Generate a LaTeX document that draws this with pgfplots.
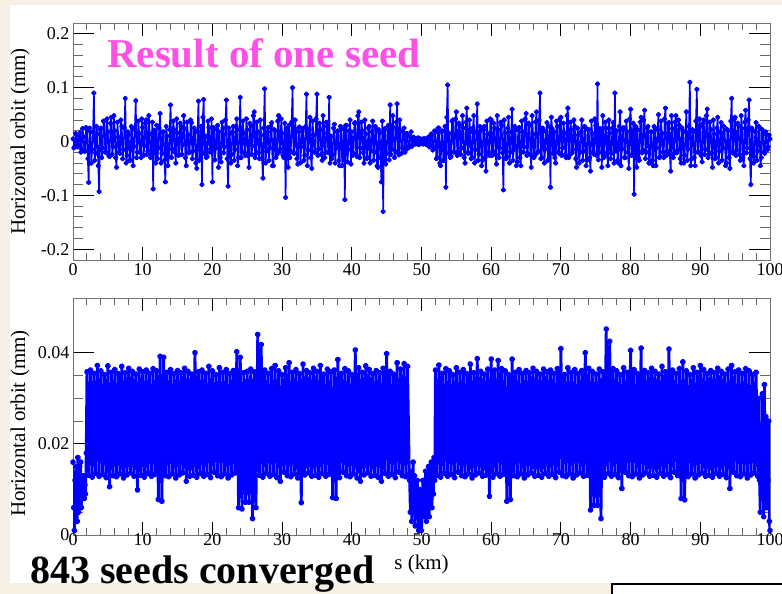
\documentclass[border=0pt]{standalone}
\usepackage{fontspec}
\setmainfont{Liberation Serif}
\usepackage{pgfplots}
\pgfplotsset{compat=1.18}

\definecolor{slidebg}{RGB}{246,240,228}
\definecolor{seedpink}{RGB}{255,80,230}
\definecolor{orbitblue}{RGB}{0,0,255}

\pgfplotsset{
  orbitaxis/.style={
    scale only axis, width=697bp, height=237bp,
    xmin=0, xmax=100, xtick={0,10,...,100}, minor x tick num=4,
    tick align=inside,
    axis line style={black!55, line width=0.9bp},
    major tick length=21bp, minor tick length=10bp,
    xtick style={/pgfplots/major tick length=13bp, /pgfplots/minor tick length=7bp},
    every major tick/.append style={black, line width=0.9bp},
    every minor tick/.append style={black!60, line width=0.9bp},
    ticklabel style={font=\fontsize{18bp}{20bp}\selectfont},
    /pgf/number format/assume math mode=true,
    scaled ticks=false,
    ylabel={Horizontal orbit (mm)},
    every axis y label/.style={at={(axis description cs:-0.076,0.5)}, rotate=90,
      anchor=center, font=\fontsize{21bp}{24bp}\selectfont},
  }
}

\begin{document}
\begin{tikzpicture}
\path[use as bounding box] (0,0) rectangle (782bp,-594bp);
\fill[slidebg] (0,0) rectangle (782bp,-594bp);
\fill[white] (10bp,-5bp) rectangle (782bp,-583bp);

% top panel: one seed
\begin{axis}[orbitaxis, at={(73bp,-260bp)}, anchor=south west,
  ymin=-0.22, ymax=0.22, ytick={-0.2,-0.1,0,0.1,0.2},
  yticklabels={-0.2,-0.1,0,0.1,0.2}, minor y tick num=4]
\addplot[orbitblue, line width=1.6bp, line join=round, mark=*, mark size=1.9bp] coordinates {
(0,0.005)(0.125,-0.012)(0.25,-0.009)(0.375,0.015)(0.5,0.012)(0.625,-0.01)(0.75,-0.006)(0.875,0.014)
(1,0.016)(1.125,-0.02)(1.25,-0.014)(1.375,0.024)(1.5,0.009)(1.625,-0.018)(1.75,-0.018)(1.875,0.026)
(2,0.022)(2.125,-0.032)(2.25,-0.076)(2.375,0.025)(2.5,0.018)(2.625,-0.04)(2.75,-0.015)(2.875,0.018)
(3,0.09)(3.125,-0.035)(3.25,-0.022)(3.375,0.028)(3.5,0.014)(3.625,-0.045)(3.75,-0.093)(3.875,0.022)
(4,0.025)(4.125,-0.03)(4.25,-0.012)(4.375,0.038)(4.5,0.038)(4.625,-0.02)(4.75,-0.02)(4.875,0.042)
(5,0.018)(5.125,-0.026)(5.25,-0.028)(5.375,0.034)(5.5,0.045)(5.625,-0.024)(5.75,-0.01)(5.875,0.048)
(6,0.02)(6.125,-0.03)(6.25,-0.048)(6.375,0.036)(6.5,0.008)(6.625,-0.021)(6.75,-0.022)(6.875,0.04)
(7,0.028)(7.125,-0.032)(7.25,-0.015)(7.375,0.025)(7.5,0.08)(7.625,-0.04)(7.75,-0.026)(7.875,0.018)
(8,0.012)(8.125,-0.035)(8.25,-0.035)(8.375,0.028)(8.5,0.024)(8.625,-0.045)(8.75,-0.009)(8.875,0.022)
(9,0.076)(9.125,-0.03)(9.25,-0.02)(9.375,0.038)(9.5,0.015)(9.625,-0.02)(9.75,-0.03)(9.875,0.042)
(10,0.026)(10.125,-0.026)(10.25,-0.008)(10.375,0.034)(10.5,0.04)(10.625,-0.024)(10.75,-0.018)(10.875,0.048)
(11,0.014)(11.125,-0.03)(11.25,-0.024)(11.375,0.036)(11.5,-0.088)(11.625,0.021)(11.75,0.02)(11.875,-0.04)
(12,0.03)(12.125,-0.032)(12.25,-0.012)(12.375,0.025)(12.5,0.052)(12.625,-0.04)(12.75,-0.022)(12.875,0.018)
(13,0.018)(13.125,-0.035)(13.25,-0.075)(13.375,0.028)(13.5,0.01)(13.625,-0.045)(13.75,-0.028)(13.875,0.022)
(14,0.068)(14.125,-0.03)(14.25,-0.014)(14.375,0.038)(14.5,0.022)(14.625,-0.02)(14.75,-0.04)(14.875,0.042)
(15,0.016)(15.125,-0.026)(15.25,-0.025)(15.375,0.034)(15.5,0.028)(15.625,-0.024)(15.75,-0.006)(15.875,0.048)
(16,0.024)(16.125,-0.03)(16.25,-0.045)(16.375,0.036)(16.5,0.012)(16.625,-0.021)(16.75,-0.02)(16.875,0.04)
(17,0.035)(17.125,-0.032)(17.25,-0.018)(17.375,0.025)(17.5,0.02)(17.625,-0.04)(17.75,-0.05)(17.875,0.018)
(18,0.075)(18.125,-0.035)(18.25,-0.016)(18.375,0.028)(18.5,-0.08)(18.625,0.045)(18.75,0.078)(18.875,-0.022)
(19,0.01)(19.125,-0.03)(19.25,-0.028)(19.375,0.038)(19.5,0.026)(19.625,-0.02)(19.75,-0.014)(19.875,0.042)
(20,-0.075)(20.125,0.026)(20.25,0.022)(20.375,-0.034)(20.5,-0.012)(20.625,0.024)(20.75,0.03)(20.875,-0.048)
(21,0.018)(21.125,-0.03)(21.25,-0.038)(21.375,0.036)(21.5,0.025)(21.625,-0.021)(21.75,-0.01)(21.875,0.04)
(22,0.077)(22.125,-0.032)(22.25,-0.083)(22.375,0.025)(22.5,0.014)(22.625,-0.04)(22.75,-0.024)(22.875,0.018)
(23,0.028)(23.125,-0.035)(23.25,-0.015)(23.375,0.028)(23.5,0.042)(23.625,-0.045)(23.75,-0.03)(23.875,0.022)
(24,0.082)(24.125,-0.03)(24.25,-0.02)(24.375,0.038)(24.5,0.016)(24.625,-0.02)(24.75,-0.026)(24.875,0.042)
(25,0.022)(25.125,-0.026)(25.25,-0.048)(25.375,0.034)(25.5,0.03)(25.625,-0.024)(25.75,-0.008)(25.875,0.048)
(26,0.055)(26.125,-0.03)(26.25,-0.022)(26.375,0.036)(26.5,0.018)(26.625,-0.021)(26.75,-0.032)(26.875,0.04)
(27,0.012)(27.125,-0.032)(27.25,-0.068)(27.375,0.025)(27.5,0.098)(27.625,-0.04)(27.75,-0.018)(27.875,0.018)
(28,0.026)(28.125,-0.035)(28.25,-0.012)(28.375,0.028)(28.5,0.035)(28.625,-0.045)(28.75,-0.045)(28.875,0.022)
(29,0.02)(29.125,-0.03)(29.25,-0.024)(29.375,0.038)(29.5,0.048)(29.625,-0.02)(29.75,-0.014)(29.875,0.042)
(30,0.015)(30.125,-0.026)(30.25,-0.03)(30.375,0.034)(30.5,-0.104)(30.625,0.024)(30.75,0.025)(30.875,-0.048)
(31,0.03)(31.125,-0.03)(31.25,-0.018)(31.375,0.036)(31.5,0.1)(31.625,-0.021)(31.75,-0.022)(31.875,0.04)
(32,0.018)(32.125,-0.032)(32.25,-0.042)(32.375,0.025)(32.5,0.027)(32.625,-0.04)(32.75,-0.01)(32.875,0.018)
(33,0.024)(33.125,-0.035)(33.25,-0.026)(33.375,0.028)(33.5,0.088)(33.625,-0.045)(33.75,-0.016)(33.875,0.022)
(34,0.045)(34.125,-0.03)(34.25,-0.05)(34.375,0.038)(34.5,0.012)(34.625,-0.02)(34.75,-0.02)(34.875,0.042)
(35,0.088)(35.125,-0.026)(35.25,-0.014)(35.375,0.034)(35.5,0.022)(35.625,-0.024)(35.75,-0.035)(35.875,0.048)
(36,0.028)(36.125,-0.03)(36.25,-0.02)(36.375,0.036)(36.5,0.015)(36.625,-0.021)(36.75,0.082)(36.875,-0.04)
(37,0.01)(37.125,-0.032)(37.25,-0.025)(37.375,0.025)(37.5,0.032)(37.625,-0.04)(37.75,-0.012)(37.875,0.018)
(38,0.02)(38.125,-0.035)(38.25,-0.045)(38.375,0.028)(38.5,0.026)(38.625,-0.045)(38.75,-0.018)(38.875,0.022)
(39,-0.108)(39.125,0.03)(39.25,0.03)(39.375,-0.038)(39.5,-0.015)(39.625,0.02)(39.75,0.04)(39.875,-0.042)
(40,0.018)(40.125,-0.026)(40.25,-0.022)(40.375,0.034)(40.5,0.035)(40.625,-0.024)(40.75,-0.028)(40.875,0.048)
(41,0.055)(41.125,-0.03)(41.25,-0.012)(41.375,0.036)(41.5,0.02)(41.625,-0.021)(41.75,-0.04)(41.875,0.04)
(42,0.014)(42.125,-0.032)(42.25,-0.03)(42.375,0.025)(42.5,0.028)(42.625,-0.04)(42.75,-0.016)(42.875,0.018)
(43,0.038)(43.125,-0.035)(43.25,-0.02)(43.375,0.028)(43.5,0.022)(43.625,-0.045)(43.75,-0.048)(43.875,0.022)
(44,0.016)(44.125,-0.03)(44.25,-0.075)(44.375,0.038)(44.5,-0.13)(44.625,0.02)(44.75,0.024)(44.875,-0.042)
(45,-0.022)(45.125,0.026)(45.25,0.03)(45.375,-0.034)(45.5,0.068)(45.625,-0.024)(45.75,-0.014)(45.875,0.048)
(46,0.026)(46.125,-0.03)(46.25,-0.018)(46.375,0.036)(46.5,0.07)(46.625,-0.021)(46.75,-0.025)(46.875,0.04)
(47,0.02)(47.125,-0.022)(47.25,-0.012)(47.375,0.018)(47.5,0.025)(47.625,-0.02)(47.75,-0.016)(47.875,0.015)
(48,0.01)(48.125,-0.012)(48.25,-0.008)(48.375,0.01)(48.5,0.018)(48.625,-0.009)(48.75,-0.005)(48.875,0.008)
(49,0.006)(49.125,-0.005)(49.25,-0.004)(49.375,0.004)(49.5,0.007)(49.625,-0.006)(49.75,-0.003)(49.875,0.005)
(50,0.004)(50.125,-0.004)(50.25,-0.005)(50.375,0.006)(50.5,0.003)(50.625,-0.005)(50.75,-0.006)(50.875,0.007)
(51,0.008)(51.125,-0.01)(51.25,-0.006)(51.375,0.014)(51.5,0.012)(51.625,-0.016)(51.75,-0.01)(51.875,0.02)
(52,0.018)(52.125,-0.032)(52.25,-0.03)(52.375,0.025)(52.5,0.025)(52.625,-0.04)(52.75,-0.045)(52.875,0.018)
(53,0.02)(53.125,-0.035)(53.25,-0.035)(53.375,0.028)(53.5,-0.085)(53.625,0.045)(53.75,0.105)(53.875,-0.022)
(54,0.015)(54.125,-0.03)(54.25,-0.028)(54.375,0.038)(54.5,0.04)(54.625,-0.02)(54.75,-0.02)(54.875,0.042)
(55,0.055)(55.125,-0.026)(55.25,-0.018)(55.375,0.034)(55.5,0.03)(55.625,-0.024)(55.75,-0.012)(55.875,0.048)
(56,0.025)(56.125,-0.03)(56.25,-0.04)(56.375,0.036)(56.5,0.062)(56.625,-0.021)(56.75,-0.022)(56.875,0.04)
(57,0.018)(57.125,-0.032)(57.25,-0.03)(57.375,0.025)(57.5,0.048)(57.625,-0.04)(57.75,-0.015)(57.875,0.018)
(58,0.07)(58.125,-0.035)(58.25,-0.024)(58.375,0.028)(58.5,0.02)(58.625,-0.045)(58.75,-0.035)(58.875,0.022)
(59,0.028)(59.125,-0.03)(59.25,-0.055)(59.375,0.038)(59.5,0.014)(59.625,-0.02)(59.75,-0.026)(59.875,0.042)
(60,0.04)(60.125,-0.026)(60.25,-0.018)(60.375,0.034)(60.5,0.025)(60.625,-0.024)(60.75,-0.042)(60.875,0.048)
(61,0.022)(61.125,-0.03)(61.25,-0.012)(61.375,0.036)(61.5,0.03)(61.625,-0.021)(61.75,-0.09)(61.875,0.04)
(62,0.016)(62.125,-0.032)(62.25,-0.028)(62.375,0.025)(62.5,0.045)(62.625,-0.04)(62.75,-0.02)(62.875,0.018)
(63,0.06)(63.125,-0.035)(63.25,-0.015)(63.375,0.028)(63.5,0.022)(63.625,-0.045)(63.75,-0.038)(63.875,0.022)
(64,0.026)(64.125,-0.03)(64.25,-0.045)(64.375,0.038)(64.5,0.018)(64.625,-0.02)(64.75,-0.01)(64.875,0.042)
(65,0.052)(65.125,-0.026)(65.25,-0.022)(65.375,0.034)(65.5,0.03)(65.625,-0.024)(65.75,-0.048)(65.875,0.048)
(66,0.014)(66.125,-0.03)(66.25,-0.026)(66.375,0.036)(66.5,0.055)(66.625,-0.021)(66.75,-0.018)(66.875,0.04)
(67,0.09)(67.125,-0.032)(67.25,-0.03)(67.375,0.025)(67.5,0.02)(67.625,-0.04)(67.75,-0.014)(67.875,0.018)
(68,0.035)(68.125,-0.035)(68.25,-0.016)(68.375,0.028)(68.5,-0.085)(68.625,0.045)(68.75,0.024)(68.875,-0.022)
(69,0.018)(69.125,-0.03)(69.25,-0.04)(69.375,0.038)(69.5,0.028)(69.625,-0.02)(69.75,-0.022)(69.875,0.042)
(70,0.045)(70.125,-0.026)(70.25,-0.012)(70.375,0.034)(70.5,0.016)(70.625,-0.024)(70.75,-0.03)(70.875,0.048)
(71,0.062)(71.125,-0.03)(71.25,-0.025)(71.375,0.036)(71.5,0.022)(71.625,-0.021)(71.75,-0.015)(71.875,0.04)
(72,0.028)(72.125,-0.032)(72.25,-0.048)(72.375,0.025)(72.5,0.012)(72.625,-0.04)(72.75,-0.02)(72.875,0.018)
(73,0.04)(73.125,-0.035)(73.25,-0.018)(73.375,0.028)(73.5,0.026)(73.625,-0.045)(73.75,-0.035)(73.875,0.022)
(74,0.022)(74.125,-0.03)(74.25,-0.055)(74.375,0.038)(74.5,0.015)(74.625,-0.02)(74.75,-0.024)(74.875,0.042)
(75,0.03)(75.125,-0.026)(75.25,0.107)(75.375,-0.034)(75.5,-0.02)(75.625,0.024)(75.75,0.014)(75.875,-0.048)
(76,0.048)(76.125,-0.03)(76.25,-0.028)(76.375,0.036)(76.5,0.025)(76.625,-0.021)(76.75,-0.045)(76.875,0.04)
(77,0.016)(77.125,-0.032)(77.25,-0.022)(77.375,0.025)(77.5,0.035)(77.625,-0.04)(77.75,0.09)(77.875,-0.018)
(78,0.02)(78.125,-0.035)(78.25,-0.04)(78.375,0.028)(78.5,0.055)(78.625,-0.045)(78.75,-0.014)(78.875,0.022)
(79,0.026)(79.125,-0.03)(79.25,-0.03)(79.375,0.038)(79.5,0.018)(79.625,-0.02)(79.75,-0.05)(79.875,0.042)
(80,0.06)(80.125,-0.026)(80.25,-0.024)(80.375,0.034)(80.5,-0.098)(80.625,0.024)(80.75,0.028)(80.875,-0.048)
(81,0.022)(81.125,-0.03)(81.25,-0.035)(81.375,0.036)(81.5,0.045)(81.625,-0.021)(81.75,-0.016)(81.875,0.04)
(82,0.058)(82.125,-0.032)(82.25,-0.02)(82.375,0.025)(82.5,0.028)(82.625,-0.04)(82.75,-0.04)(82.875,0.018)
(83,0.018)(83.125,-0.035)(83.25,-0.045)(83.375,0.028)(83.5,0.024)(83.625,-0.045)(83.75,-0.012)(83.875,0.022)
(84,0.05)(84.125,-0.03)(84.25,-0.028)(84.375,0.038)(84.5,0.015)(84.625,-0.02)(84.75,-0.03)(84.875,0.042)
(85,0.062)(85.125,-0.026)(85.25,-0.018)(85.375,0.034)(85.5,0.035)(85.625,-0.024)(85.75,-0.055)(85.875,0.048)
(86,0.024)(86.125,-0.03)(86.25,-0.022)(86.375,0.036)(86.5,0.048)(86.625,-0.021)(86.75,-0.016)(86.875,0.04)
(87,0.03)(87.125,-0.032)(87.25,-0.04)(87.375,0.025)(87.5,0.02)(87.625,-0.04)(87.75,-0.026)(87.875,0.018)
(88,0.055)(88.125,-0.035)(88.25,-0.014)(88.375,0.028)(88.5,0.11)(88.625,-0.045)(88.75,-0.032)(88.875,0.022)
(89,0.018)(89.125,-0.03)(89.25,-0.045)(89.375,0.038)(89.5,0.097)(89.625,-0.02)(89.75,-0.02)(89.875,0.042)
(90,0.028)(90.125,-0.026)(90.25,-0.038)(90.375,0.034)(90.5,0.04)(90.625,-0.024)(90.75,-0.015)(90.875,0.048)
(91,0.06)(91.125,-0.03)(91.25,-0.024)(91.375,0.036)(91.5,0.022)(91.625,-0.021)(91.75,-0.048)(91.875,0.04)
(92,0.014)(92.125,-0.032)(92.25,-0.03)(92.375,0.025)(92.5,0.045)(92.625,-0.04)(92.75,-0.018)(92.875,0.018)
(93,0.035)(93.125,-0.035)(93.25,-0.012)(93.375,0.028)(93.5,0.026)(93.625,-0.045)(93.75,-0.04)(93.875,0.022)
(94,0.02)(94.125,-0.03)(94.25,-0.05)(94.375,0.038)(94.5,0.08)(94.625,-0.02)(94.75,-0.022)(94.875,0.042)
(95,0.045)(95.125,-0.026)(95.25,-0.016)(95.375,0.034)(95.5,0.03)(95.625,-0.024)(95.75,-0.035)(95.875,0.048)
(96,0.024)(96.125,-0.03)(96.25,-0.045)(96.375,0.036)(96.5,0.058)(96.625,-0.021)(96.75,-0.012)(96.875,0.04)
(97,0.077)(97.125,-0.032)(97.25,-0.08)(97.375,0.025)(97.5,0.02)(97.625,-0.04)(97.75,-0.028)(97.875,0.018)
(98,0.035)(98.125,-0.035)(98.25,-0.018)(98.375,0.028)(98.5,0.026)(98.625,-0.045)(98.75,-0.03)(98.875,0.022)
(99,0.015)(99.125,-0.02)(99.25,-0.022)(99.375,0.018)(99.5,0.012)(99.625,-0.015)(99.75,-0.01)(99.875,0.012)
(100,0.005)
};
\end{axis}

% bottom panel: 843 seeds
\begin{axis}[orbitaxis, at={(73bp,-535bp)}, anchor=south west,
  ymin=0, ymax=0.052, ytick={0,0.02,0.04}, yticklabels={0,0.02,0.04},
  minor y tick num=3, xticklabel style={yshift=5bp},
  every axis y label/.append style={at={(axis description cs:-0.076,0.47)}},
  xlabel={s (km)},
  every axis x label/.style={at={(axis description cs:0.5,0)}, anchor=base,
    yshift=-34bp, font=\fontsize{21bp}{24bp}\selectfont}]
\addplot[orbitblue, line width=2.8bp, line join=round, mark=*, mark size=1.7bp] coordinates {
(0,0.016)(0.1,0.006)(0.2,0.001)(0.3,0.012)(0.4,0.008)(0.5,0.015)(0.6,0.003)(0.7,0.017)(0.8,0.005)(0.9,0.014)
(1,0.007)(1.1,0.016)(1.2,0.006)(1.3,0.012)(1.4,0.009)(1.5,0.013)(1.6,0.008)(1.7,0.011)(1.8,0.009)(1.9,0.018)
(2,0.0358)(2.25,0.0131)(2.5,0.0362)(2.75,0.0127)
(3,0.0355)(3.25,0.0135)(3.5,0.0372)(3.75,0.0129)
(4,0.0360)(4.25,0.0133)(4.5,0.0352)(4.75,0.0126)
(5,0.0371)(5.25,0.0106)(5.5,0.0357)(5.75,0.0130)
(6,0.0363)(6.25,0.0128)(6.5,0.0354)(6.75,0.0134)
(7,0.0370)(7.25,0.0125)(7.5,0.0356)(7.75,0.0132)
(8,0.0366)(8.25,0.0136)(8.5,0.0359)(8.75,0.0129)
(9,0.0353)(9.25,0.0099)(9.5,0.0364)(9.75,0.0131)
(10,0.0358)(10.25,0.0127)(10.5,0.0362)(10.75,0.0135)
(11,0.0355)(11.25,0.0129)(11.5,0.0365)(11.75,0.0133)
(12,0.0360)(12.25,0.0078)(12.5,0.0392)(12.75,0.0074)
(13,0.0390)(13.25,0.0130)(13.5,0.0357)(13.75,0.0128)
(14,0.0363)(14.25,0.0134)(14.5,0.0354)(14.75,0.0125)
(15,0.0361)(15.25,0.0132)(15.5,0.0356)(15.75,0.0136)
(16,0.0366)(16.25,0.0118)(16.5,0.0359)(16.75,0.0129)
(17,0.0353)(17.25,0.0131)(17.5,0.0400)(17.75,0.0127)
(18,0.0358)(18.25,0.0135)(18.5,0.0362)(18.75,0.0129)
(19,0.0355)(19.25,0.0133)(19.5,0.0370)(19.75,0.0126)
(20,0.0360)(20.25,0.0138)(20.5,0.0352)(20.75,0.0130)
(21,0.0367)(21.25,0.0128)(21.5,0.0357)(21.75,0.0134)
(22,0.0363)(22.25,0.0125)(22.5,0.0354)(22.75,0.0132)
(23,0.0361)(23.25,0.0136)(23.5,0.0402)(23.75,0.0060)
(24,0.0390)(24.25,0.0057)(24.5,0.0356)(24.75,0.0072)
(25,0.0359)(25.25,0.0072)(25.5,0.0364)(25.75,0.0036)
(26,0.0358)(26.25,0.0060)(26.5,0.0440)(26.75,0.0131)
(27,0.0418)(27.25,0.0127)(27.5,0.0362)(27.75,0.0135)
(28,0.0355)(28.25,0.0129)(28.5,0.0365)(28.75,0.0133)
(29,0.0372)(29.25,0.0126)(29.5,0.0360)(29.75,0.0118)
(30,0.0352)(30.25,0.0138)(30.5,0.0367)(30.75,0.0130)
(31,0.0378)(31.25,0.0128)(31.5,0.0357)(31.75,0.0134)
(32,0.0363)(32.25,0.0125)(32.5,0.0354)(32.75,0.0071)
(33,0.0375)(33.25,0.0132)(33.5,0.0361)(33.75,0.0136)
(34,0.0356)(34.25,0.0129)(34.5,0.0366)(34.75,0.0131)
(35,0.0359)(35.25,0.0127)(35.5,0.0372)(35.75,0.0135)
(36,0.0353)(36.25,0.0129)(36.5,0.0364)(36.75,0.0133)
(37,0.0358)(37.25,0.0082)(37.5,0.0362)(37.75,0.0080)
(38,0.0385)(38.25,0.0126)(38.5,0.0355)(38.75,0.0138)
(39,0.0365)(39.25,0.0130)(39.5,0.0360)(39.75,0.0128)
(40,0.0352)(40.25,0.0134)(40.5,0.0406)(40.75,0.0125)
(41,0.0367)(41.25,0.0118)(41.5,0.0357)(41.75,0.0132)
(42,0.0371)(42.25,0.0136)(42.5,0.0363)(42.75,0.0129)
(43,0.0354)(43.25,0.0131)(43.5,0.0361)(43.75,0.0127)
(44,0.0356)(44.25,0.0118)(44.5,0.0366)(44.75,0.0135)
(45,0.0398)(45.25,0.0129)(45.5,0.0359)(45.75,0.0133)
(46,0.0353)(46.25,0.0126)(46.5,0.0378)(46.75,0.0138)
(47,0.0364)(47.25,0.0130)(47.5,0.0376)(47.75,0.0128)
(48,0.0370)(48.25,0.0134)
(48.3,0.012)(48.4,0.005)(48.5,0.014)(48.6,0.003)(48.7,0.011)(48.8,0.016)(48.9,0.006)
(49,0.013)(49.1,0.002)(49.2,0.009)(49.3,0.004)(49.4,0.012)(49.5,0.007)(49.6,0.001)(49.7,0.010)(49.8,0.003)(49.9,0.008)
(50,0.001)(50.1,0.006)(50.2,0.012)(50.3,0.004)(50.4,0.011)(50.5,0.007)(50.6,0.014)(50.7,0.003)(50.8,0.012)(50.9,0.006)
(51,0.015)(51.1,0.004)(51.2,0.013)(51.3,0.008)(51.4,0.016)(51.5,0.006)(51.6,0.014)(51.7,0.009)(51.8,0.017)(51.9,0.012)
(52,0.0362)(52.25,0.0131)(52.5,0.0373)(52.75,0.0127)
(53,0.0355)(53.25,0.0135)(53.5,0.0365)(53.75,0.0129)
(54,0.0360)(54.25,0.0133)(54.5,0.0352)(54.75,0.0126)
(55,0.0367)(55.25,0.0138)(55.5,0.0357)(55.75,0.0130)
(56,0.0363)(56.25,0.0128)(56.5,0.0354)(56.75,0.0134)
(57,0.0375)(57.25,0.0125)(57.5,0.0356)(57.75,0.0132)
(58,0.0387)(58.25,0.0136)(58.5,0.0359)(58.75,0.0129)
(59,0.0353)(59.25,0.0131)(59.5,0.0364)(59.75,0.0085)
(60,0.0386)(60.25,0.0127)(60.5,0.0362)(60.75,0.0135)
(61,0.0383)(61.25,0.0129)(61.5,0.0365)(61.75,0.0133)
(62,0.0360)(62.25,0.0074)(62.5,0.0352)(62.75,0.0078)
(63,0.0386)(63.25,0.0130)(63.5,0.0357)(63.75,0.0128)
(64,0.0363)(64.25,0.0134)(64.5,0.0354)(64.75,0.0125)
(65,0.0361)(65.25,0.0132)(65.5,0.0356)(65.75,0.0136)
(66,0.0366)(66.25,0.0129)(66.5,0.0359)(66.75,0.0131)
(67,0.0353)(67.25,0.0127)(67.5,0.0364)(67.75,0.0135)
(68,0.0358)(68.25,0.0129)(68.5,0.0362)(68.75,0.0133)
(69,0.0355)(69.25,0.0126)(69.5,0.0365)(69.75,0.0138)
(70,0.0409)(70.25,0.0130)(70.5,0.0352)(70.75,0.0128)
(71,0.0367)(71.25,0.0134)(71.5,0.0357)(71.75,0.0125)
(72,0.0363)(72.25,0.0132)(72.5,0.0354)(72.75,0.0136)
(73,0.0361)(73.25,0.0129)(73.5,0.0400)(73.75,0.0131)
(74,0.0366)(74.25,0.0055)(74.5,0.0359)(74.75,0.0065)
(75,0.0353)(75.25,0.0065)(75.5,0.0364)(75.75,0.0036)
(76,0.0358)(76.25,0.0127)(76.5,0.0452)(76.75,0.0135)
(77,0.0425)(77.25,0.0129)(77.5,0.0365)(77.75,0.0133)
(78,0.0360)(78.25,0.0126)(78.5,0.0352)(78.75,0.0102)
(79,0.0367)(79.25,0.0138)(79.5,0.0357)(79.75,0.0130)
(80,0.0405)(80.25,0.0128)(80.5,0.0363)(80.75,0.0134)
(81,0.0354)(81.25,0.0125)(81.5,0.0410)(81.75,0.0132)
(82,0.0361)(82.25,0.0136)(82.5,0.0356)(82.75,0.0129)
(83,0.0366)(83.25,0.0131)(83.5,0.0359)(83.75,0.0127)
(84,0.0353)(84.25,0.0135)(84.5,0.0370)(84.75,0.0129)
(85,0.0358)(85.25,0.0133)(85.5,0.0408)(85.75,0.0126)
(86,0.0362)(86.25,0.0138)(86.5,0.0355)(86.75,0.0130)
(87,0.0365)(87.25,0.0080)(87.5,0.0380)(87.75,0.0077)
(88,0.0360)(88.25,0.0128)(88.5,0.0352)(88.75,0.0134)
(89,0.0367)(89.25,0.0125)(89.5,0.0357)(89.75,0.0132)
(90,0.0372)(90.25,0.0136)(90.5,0.0363)(90.75,0.0129)
(91,0.0354)(91.25,0.0131)(91.5,0.0361)(91.75,0.0127)
(92,0.0356)(92.25,0.0135)(92.5,0.0366)(92.75,0.0129)
(93,0.0359)(93.25,0.0133)(93.5,0.0353)(93.75,0.0126)
(94,0.0364)(94.25,0.0102)(94.5,0.0372)(94.75,0.0138)
(95,0.0358)(95.25,0.0130)(95.5,0.0362)(95.75,0.0128)
(96,0.0355)(96.25,0.0134)(96.5,0.0365)(96.75,0.0125)
(97,0.0360)(97.25,0.0132)(97.5,0.0352)(97.75,0.0136)
(98,0.0357)(98.25,0.0129)
(98.4,0.030)(98.5,0.012)(98.6,0.005)(98.7,0.024)(98.8,0.008)(98.9,0.031)
(99,0.015)(99.1,0.004)(99.2,0.033)(99.3,0.010)(99.4,0.026)(99.5,0.006)(99.6,0.020)(99.7,0.012)(99.8,0.025)(99.9,0.003)(100,0.001)
};
\end{axis}

\node[anchor=base west, inner sep=0, text=seedpink,
  font=\fontsize{41bp}{46bp}\selectfont\bfseries] at (107bp,-67bp) {Result of one seed};
\draw[black, line width=1.8bp, fill=white] (612bp,-584bp) rectangle (800bp,-620bp);
\node[anchor=base west, inner sep=0,
  font=\fontsize{40bp}{45bp}\selectfont\bfseries] at (30bp,-583bp) {843 seeds converged};
\end{tikzpicture}
\end{document}
